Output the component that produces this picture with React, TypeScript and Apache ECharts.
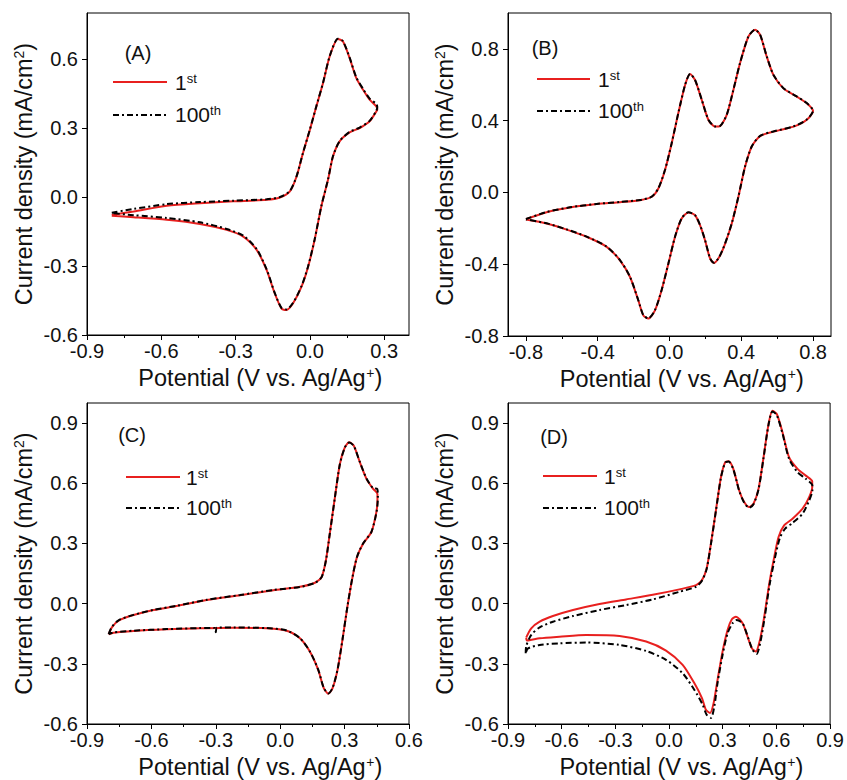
import React, { useEffect, useRef } from "react";
import * as echarts from "echarts";

const FONT = "'Liberation Sans', Arial, Helvetica, sans-serif";
const RED = "#e8201f";
const INK = "#111111";

// ---------- Panel A ----------
const xTicksA = [-0.9, -0.6, -0.3, 0, 0.3];
const xMinorA = [-0.75, -0.45, -0.15, 0.15];
const yTicksA = [-0.6, -0.3, 0, 0.3, 0.6];
const cvA1st = [
  [-0.8, -0.078], [-0.712, -0.063], [-0.578, -0.038], [-0.444, -0.027], [-0.309, -0.019], [-0.175, -0.012],
  [-0.121, -0.002], [-0.081, 0.024], [-0.054, 0.089], [-0.028, 0.191], [0.0, 0.293], [0.026, 0.394],
  [0.053, 0.496], [0.08, 0.612], [0.113, 0.687], [0.133, 0.677], [0.16, 0.605], [0.187, 0.518],
  [0.214, 0.467], [0.241, 0.423], [0.268, 0.394], [0.272, 0.38],
  [0.268, 0.372], [0.241, 0.329], [0.201, 0.3], [0.16, 0.281], [0.12, 0.242], [0.093, 0.176],
  [0.073, 0.075], [0.046, -0.041], [0.019, -0.186], [-0.007, -0.302], [-0.034, -0.39], [-0.068, -0.462],
  [-0.095, -0.491], [-0.115, -0.484], [-0.142, -0.419], [-0.175, -0.317], [-0.215, -0.23], [-0.269, -0.172],
  [-0.336, -0.143], [-0.444, -0.117], [-0.578, -0.099], [-0.712, -0.088], [-0.8, -0.082],
];
const cvA100th = [
  [-0.8, -0.068], [-0.712, -0.052], [-0.578, -0.031], [-0.444, -0.022], [-0.309, -0.016], [-0.175, -0.01],
  [-0.121, 0.0], [-0.081, 0.026], [-0.054, 0.09], [-0.028, 0.192], [0.0, 0.294], [0.026, 0.395],
  [0.053, 0.497], [0.08, 0.613], [0.113, 0.688], [0.133, 0.678], [0.16, 0.607], [0.187, 0.521],
  [0.214, 0.471], [0.241, 0.428], [0.268, 0.405], [0.272, 0.39],
  [0.268, 0.375], [0.241, 0.331], [0.201, 0.302], [0.16, 0.283], [0.12, 0.243], [0.093, 0.177],
  [0.073, 0.076], [0.046, -0.04], [0.019, -0.185], [-0.007, -0.3], [-0.034, -0.388], [-0.068, -0.46],
  [-0.095, -0.489], [-0.115, -0.482], [-0.142, -0.417], [-0.175, -0.314], [-0.215, -0.226], [-0.269, -0.168],
  [-0.336, -0.139], [-0.444, -0.11], [-0.578, -0.091], [-0.712, -0.079], [-0.8, -0.07],
];

// ---------- Panel B ----------
const xTicksB = [-0.8, -0.4, 0, 0.4, 0.8];
const xMinorB = [-0.6, -0.2, 0.2, 0.6];
const yTicksB = [-0.8, -0.4, 0, 0.4, 0.8];
const cvB1st = [
  [-0.8, -0.149], [-0.685, -0.11], [-0.555, -0.084], [-0.406, -0.065], [-0.276, -0.054], [-0.164, -0.043],
  [-0.099, -0.024], [-0.062, 0.022], [-0.025, 0.125], [0.012, 0.273], [0.049, 0.441], [0.087, 0.599],
  [0.115, 0.66], [0.142, 0.627], [0.18, 0.515], [0.217, 0.404], [0.254, 0.367], [0.282, 0.37],
  [0.319, 0.432], [0.356, 0.571], [0.393, 0.72], [0.44, 0.869], [0.477, 0.906], [0.505, 0.878],
  [0.542, 0.757], [0.579, 0.655], [0.635, 0.58], [0.709, 0.534], [0.765, 0.497], [0.8, 0.454],
  [0.765, 0.405], [0.691, 0.367], [0.579, 0.339], [0.505, 0.314], [0.458, 0.255], [0.421, 0.143],
  [0.384, -0.024], [0.347, -0.173], [0.31, -0.285], [0.278, -0.359], [0.248, -0.393], [0.226, -0.368],
  [0.198, -0.266], [0.17, -0.182], [0.142, -0.127], [0.105, -0.112], [0.068, -0.145], [0.031, -0.247],
  [-0.006, -0.396], [-0.044, -0.545], [-0.081, -0.657], [-0.118, -0.703], [-0.146, -0.685], [-0.174, -0.601],
  [-0.22, -0.471], [-0.276, -0.378], [-0.35, -0.303], [-0.462, -0.247], [-0.573, -0.207], [-0.685, -0.173],
  [-0.8, -0.151],
];
const cvB100th = [
  [-0.8, -0.148], [-0.685, -0.109], [-0.555, -0.083], [-0.406, -0.064], [-0.276, -0.053], [-0.164, -0.042],
  [-0.099, -0.023], [-0.062, 0.023], [-0.025, 0.126], [0.012, 0.274], [0.049, 0.442], [0.087, 0.6],
  [0.115, 0.661], [0.142, 0.628], [0.18, 0.516], [0.217, 0.405], [0.254, 0.368], [0.282, 0.371],
  [0.319, 0.433], [0.356, 0.572], [0.393, 0.721], [0.44, 0.87], [0.477, 0.907], [0.505, 0.879],
  [0.542, 0.758], [0.579, 0.656], [0.635, 0.581], [0.709, 0.535], [0.765, 0.498], [0.8, 0.455],
  [0.765, 0.406], [0.691, 0.368], [0.579, 0.34], [0.505, 0.315], [0.458, 0.256], [0.421, 0.144],
  [0.384, -0.023], [0.347, -0.172], [0.31, -0.284], [0.278, -0.358], [0.248, -0.392], [0.226, -0.367],
  [0.198, -0.265], [0.17, -0.181], [0.142, -0.126], [0.105, -0.111], [0.068, -0.144], [0.031, -0.246],
  [-0.006, -0.395], [-0.044, -0.544], [-0.081, -0.656], [-0.118, -0.702], [-0.146, -0.684], [-0.174, -0.6],
  [-0.22, -0.47], [-0.276, -0.377], [-0.35, -0.302], [-0.462, -0.246], [-0.573, -0.206], [-0.685, -0.172],
  [-0.8, -0.15],
];

// ---------- Panel C ----------
const xTicksC = [-0.9, -0.6, -0.3, 0, 0.3, 0.6];
const xMinorC = [-0.75, -0.45, -0.15, 0.15, 0.45];
const yTicksC = [-0.6, -0.3, 0, 0.3, 0.6, 0.9];
const cvC1st = [
  [-0.799, -0.153], [-0.784, -0.118], [-0.753, -0.085], [-0.683, -0.057], [-0.59, -0.032], [-0.482, -0.012],
  [-0.342, 0.018], [-0.187, 0.042], [-0.032, 0.067], [0.092, 0.084], [0.162, 0.104], [0.193, 0.133],
  [0.213, 0.216], [0.231, 0.349], [0.255, 0.531], [0.278, 0.696], [0.301, 0.779], [0.321, 0.804],
  [0.343, 0.787], [0.371, 0.705], [0.402, 0.622], [0.433, 0.572], [0.453, 0.547],
  [0.453, 0.514], [0.448, 0.456], [0.425, 0.357], [0.386, 0.299], [0.358, 0.233], [0.337, 0.133],
  [0.313, -0.016], [0.29, -0.181], [0.267, -0.33], [0.244, -0.421], [0.224, -0.449], [0.203, -0.421],
  [0.177, -0.33], [0.138, -0.239], [0.092, -0.173], [0.03, -0.135], [-0.063, -0.123], [-0.218, -0.12],
  [-0.373, -0.123], [-0.528, -0.128], [-0.683, -0.136], [-0.776, -0.145], [-0.799, -0.153],
];
const cvC100th = [
  [-0.799, -0.152], [-0.784, -0.116], [-0.753, -0.083], [-0.683, -0.056], [-0.59, -0.031], [-0.482, -0.011],
  [-0.342, 0.019], [-0.187, 0.043], [-0.032, 0.068], [0.092, 0.083], [0.162, 0.103], [0.193, 0.132],
  [0.213, 0.215], [0.231, 0.348], [0.255, 0.53], [0.278, 0.695], [0.301, 0.778], [0.321, 0.803],
  [0.343, 0.786], [0.371, 0.706], [0.402, 0.624], [0.433, 0.575], [0.452, 0.572],
  [0.455, 0.53], [0.449, 0.458], [0.425, 0.358], [0.386, 0.3], [0.358, 0.234], [0.337, 0.134],
  [0.313, -0.015], [0.29, -0.18], [0.267, -0.329], [0.244, -0.42], [0.224, -0.448], [0.203, -0.42],
  [0.177, -0.329], [0.138, -0.238], [0.092, -0.172], [0.03, -0.134], [-0.063, -0.122], [-0.218, -0.119],
  [-0.295, -0.12], [-0.3, -0.143], [-0.305, -0.121], [-0.373, -0.122], [-0.528, -0.127], [-0.683, -0.135],
  [-0.776, -0.144], [-0.799, -0.152],
];

// ---------- Panel D ----------
const xTicksD = [-0.9, -0.6, -0.3, 0, 0.3, 0.6, 0.9];
const xMinorD = [-0.75, -0.45, -0.15, 0.15, 0.45, 0.75];
const yTicksD = [-0.6, -0.3, 0, 0.3, 0.6, 0.9];
const cvD1st = [
  [-0.798, -0.168], [-0.77, -0.123], [-0.723, -0.09], [-0.649, -0.062], [-0.537, -0.032], [-0.389, -0.002],
  [-0.24, 0.021], [-0.091, 0.044], [0.058, 0.071], [0.151, 0.092], [0.184, 0.117], [0.21, 0.175],
  [0.234, 0.299], [0.262, 0.465], [0.29, 0.63], [0.314, 0.705], [0.333, 0.71], [0.359, 0.672],
  [0.392, 0.564], [0.42, 0.506], [0.448, 0.481], [0.472, 0.498], [0.5, 0.572], [0.528, 0.729],
  [0.556, 0.895], [0.578, 0.961], [0.602, 0.945], [0.634, 0.854], [0.671, 0.729], [0.718, 0.672],
  [0.764, 0.638], [0.8, 0.61],
  [0.8, 0.58], [0.783, 0.531], [0.746, 0.473], [0.69, 0.423], [0.643, 0.39], [0.612, 0.332],
  [0.588, 0.233], [0.56, 0.1], [0.532, -0.065], [0.508, -0.181], [0.485, -0.239], [0.463, -0.223],
  [0.439, -0.165], [0.411, -0.098], [0.374, -0.065], [0.351, -0.078], [0.327, -0.131], [0.299, -0.239],
  [0.271, -0.38], [0.249, -0.496], [0.229, -0.545], [0.206, -0.529], [0.184, -0.471], [0.141, -0.396],
  [0.076, -0.305], [-0.017, -0.234], [-0.128, -0.189], [-0.277, -0.161], [-0.463, -0.156], [-0.612, -0.165],
  [-0.723, -0.173], [-0.794, -0.184], [-0.798, -0.17],
];
const cvD100th = [
  [-0.801, -0.247], [-0.798, -0.211], [-0.77, -0.156], [-0.723, -0.118], [-0.649, -0.09], [-0.537, -0.062],
  [-0.389, -0.032], [-0.24, -0.007], [-0.091, 0.021], [0.058, 0.059], [0.151, 0.084], [0.184, 0.114],
  [0.21, 0.172], [0.234, 0.297], [0.262, 0.463], [0.29, 0.628], [0.314, 0.703], [0.333, 0.708],
  [0.359, 0.67], [0.392, 0.562], [0.42, 0.503], [0.448, 0.478], [0.472, 0.495], [0.5, 0.569],
  [0.528, 0.726], [0.556, 0.892], [0.578, 0.958], [0.602, 0.94], [0.634, 0.848], [0.671, 0.721],
  [0.718, 0.655], [0.764, 0.622], [0.801, 0.589],
  [0.801, 0.564], [0.783, 0.514], [0.746, 0.448], [0.69, 0.402], [0.649, 0.374], [0.619, 0.327],
  [0.593, 0.233], [0.563, 0.1], [0.535, -0.065], [0.511, -0.189], [0.489, -0.251], [0.467, -0.231],
  [0.443, -0.173], [0.411, -0.098], [0.377, -0.082], [0.355, -0.098], [0.327, -0.148], [0.299, -0.256],
  [0.271, -0.396], [0.253, -0.512], [0.234, -0.57], [0.21, -0.554], [0.188, -0.504], [0.141, -0.429],
  [0.076, -0.347], [-0.017, -0.28], [-0.128, -0.236], [-0.277, -0.206], [-0.463, -0.194], [-0.612, -0.198],
  [-0.723, -0.206], [-0.788, -0.223], [-0.801, -0.247],
];

const panels = [
  {
    tag: "(A)", grid: { left: 87, top: 13, width: 322, height: 322 },
    xMin: -0.9, xMax: 0.4, yMin: -0.6, yMax: 0.8,
    xTicks: xTicksA, xMinor: xMinorA, yTicks: yTicksA, s1: cvA1st, s100: cvA100th,
    lab: [138, 53], leg: { x1: 113, x2: 167, y1: 82, y2: 115, tx: 175 },
  },
  {
    tag: "(B)", grid: { left: 508, top: 13, width: 323, height: 323 },
    xMin: -0.9, xMax: 0.9, yMin: -0.8, yMax: 1.0,
    xTicks: xTicksB, xMinor: xMinorB, yTicks: yTicksB, s1: cvB1st, s100: cvB100th,
    lab: [545, 48], leg: { x1: 537, x2: 590, y1: 79, y2: 111, tx: 598 },
  },
  {
    tag: "(C)", grid: { left: 87, top: 403, width: 322, height: 321 },
    xMin: -0.9, xMax: 0.6, yMin: -0.6, yMax: 1.0,
    xTicks: xTicksC, xMinor: xMinorC, yTicks: yTicksC, s1: cvC1st, s100: cvC100th,
    lab: [132, 435], leg: { x1: 126, x2: 180, y1: 477, y2: 508, tx: 186 },
  },
  {
    tag: "(D)", grid: { left: 508, top: 403, width: 323, height: 321 },
    xMin: -0.9, xMax: 0.9, yMin: -0.6, yMax: 1.0,
    xTicks: xTicksD, xMinor: xMinorD, yTicks: yTicksD, s1: cvD1st, s100: cvD100th,
    lab: [554, 437], leg: { x1: 543, x2: 597, y1: 476, y2: 508, tx: 604 },
  },
];

const fmt = (v: number) => (Math.abs(v) < 1e-9 ? 0 : v).toFixed(1);
const supRich = { sup: { fontSize: 13, fontFamily: FONT, color: INK, fill: INK, verticalAlign: "top" } };
const supRichTitle = { sup: { fontSize: 14, fontFamily: FONT, color: INK, verticalAlign: "top" } };

function buildOption() {
  const grid: any[] = [];
  const xAxis: any[] = [];
  const yAxis: any[] = [];
  const series: any[] = [];
  const graphic: any[] = [];

  panels.forEach((p, i) => {
    grid.push({ ...p.grid, show: true, borderColor: "#000", borderWidth: 1, backgroundColor: "transparent" });
    xAxis.push({
      gridIndex: i, type: "value", min: p.xMin, max: p.xMax, position: "bottom",
      name: "Potential (V vs. Ag/Ag{sup|+})", nameLocation: "middle", nameGap: 31,
      nameTextStyle: { fontFamily: FONT, fontSize: 23.5, color: INK, padding: [0, 0, 0, 24], rich: supRichTitle },
      axisLine: { show: true, onZero: false, lineStyle: { color: "#000", width: 1 } },
      axisTick: { show: true, length: 5, customValues: p.xTicks, lineStyle: { color: "#000", width: 1 } },
      axisLabel: { show: true, customValues: p.xTicks, formatter: fmt, fontFamily: FONT, fontSize: 20, color: INK, margin: 6 },
      splitLine: { show: false },
    });
    yAxis.push({
      gridIndex: i, type: "value", min: p.yMin, max: p.yMax, position: "left",
      name: "Current density (mA/cm{sup|2})", nameLocation: "middle", nameGap: 51,
      nameTextStyle: { fontFamily: FONT, fontSize: 23.5, color: INK, rich: supRichTitle },
      axisLine: { show: true, onZero: false, lineStyle: { color: "#000", width: 1 } },
      axisTick: { show: true, length: 5, customValues: p.yTicks, lineStyle: { color: "#000", width: 1 } },
      axisLabel: { show: true, customValues: p.yTicks, formatter: fmt, fontFamily: FONT, fontSize: 20, color: INK, margin: 9 },
      splitLine: { show: false },
    });
    series.push({
      type: "line", name: "1st", xAxisIndex: i, yAxisIndex: i, data: p.s1,
      showSymbol: false, symbol: "none", smooth: 0.25, z: 2,
      lineStyle: { color: RED, width: 2 },
    });
    series.push({
      type: "line", name: "100th", xAxisIndex: i, yAxisIndex: i, data: p.s100,
      showSymbol: false, symbol: "none", smooth: 0.25, z: 3,
      lineStyle: { color: "#000", width: 2, type: [6, 3, 2, 3] },
    });

    graphic.push({
      type: "text", x: p.lab[0], y: p.lab[1],
      style: { text: p.tag, fontFamily: FONT, fontSize: 20, fill: INK, align: "center", verticalAlign: "middle", textAlign: "center", textVerticalAlign: "middle" },
    });
    graphic.push({
      type: "line", shape: { x1: p.leg.x1, y1: p.leg.y1, x2: p.leg.x2, y2: p.leg.y1 },
      style: { stroke: RED, lineWidth: 2 },
    });
    graphic.push({
      type: "line", shape: { x1: p.leg.x1, y1: p.leg.y2, x2: p.leg.x2, y2: p.leg.y2 },
      style: { stroke: "#000", lineWidth: 2, lineDash: [6, 3, 2, 3] },
    });
    graphic.push({
      type: "text", x: p.leg.tx, y: p.leg.y1,
      style: { text: "1{sup|st}", rich: supRich, fontFamily: FONT, fontSize: 21, fill: INK, align: "left", verticalAlign: "middle", textAlign: "left", textVerticalAlign: "middle" },
    });
    graphic.push({
      type: "text", x: p.leg.tx, y: p.leg.y2 - 1,
      style: { text: "100{sup|th}", rich: supRich, fontFamily: FONT, fontSize: 21, fill: INK, align: "left", verticalAlign: "middle", textAlign: "left", textVerticalAlign: "middle" },
    });
  });

  // minor x ticks: a helper axis per grid, moved onto the bottom edge
  panels.forEach((p, i) => {
    xAxis.push({
      gridIndex: i, type: "value", min: p.xMin, max: p.xMax, position: "top", offset: -p.grid.height,
      axisLine: { show: false }, axisLabel: { show: false }, splitLine: { show: false },
      axisTick: { show: true, inside: true, length: 3, customValues: p.xMinor, lineStyle: { color: "#000", width: 1 } },
    });
  });

  return {
    animation: false,
    backgroundColor: "#ffffff",
    textStyle: { fontFamily: FONT },
    grid, xAxis, yAxis, series, graphic,
  };
}

export default function App() {
  const ref = useRef<HTMLDivElement>(null);
  useEffect(() => {
    if (!ref.current) return;
    const chart = echarts.init(ref.current, undefined, { renderer: "svg" });
    chart.setOption(buildOption() as any);
    return () => chart.dispose();
  }, []);
  return (
    <div
      ref={ref}
      style={{ position: "fixed", left: 0, top: 0, width: 847, height: 780, background: "#fff" }}
    />
  );
}
